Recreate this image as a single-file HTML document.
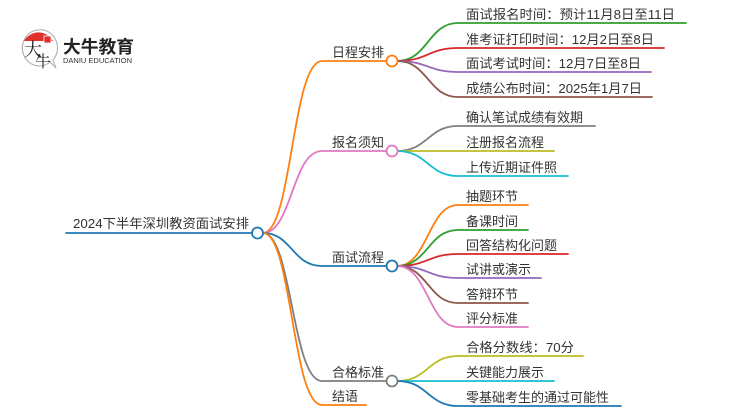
<!DOCTYPE html>
<html>
<head>
<meta charset="utf-8">
<style>
html,body{margin:0;padding:0;background:#fff;}
svg{display:block;}
text{font-family:"Liberation Sans","Noto Sans CJK SC",sans-serif;fill:#333;}
.t{font-size:13px;}
</style>
</head>
<body>
<svg width="750" height="410" viewBox="0 0 750 410" xmlns="http://www.w3.org/2000/svg">
  <!-- Logo -->
  <g>
    <path d="M38 30 A17 18 0 1 0 50 62 L56 68 L53 60 A17 18 0 0 0 38 30 Z" fill="#fff" stroke="#aaa" stroke-width="1"/>
    <path d="M24 41 A17 18 0 0 1 53 41 Z" fill="#e0302a"/>
    <rect x="44" y="36" width="7" height="7" fill="#e0302a" stroke="#fff" stroke-width="0.8"/>
    <text x="24" y="56" style="font-size:18px;font-family:'Noto Serif CJK SC',serif;fill:#222;">大</text>
    <text x="35" y="67" style="font-size:16px;font-family:'Noto Serif CJK SC',serif;fill:#222;">牛</text>
    <text x="63" y="53" style="font-size:17.5px;font-weight:bold;fill:#222;" textLength="71" lengthAdjust="spacingAndGlyphs">大牛教育</text>
    <text x="63" y="63" style="font-size:7.5px;fill:#333;" textLength="69" lengthAdjust="spacingAndGlyphs">DANIU EDUCATION</text>
  </g>

  <g fill="none" stroke-width="1.8" stroke-linecap="round">
    <!-- root line -->
    <path d="M66 233 L252 233" stroke="#1f77b4"/>
    <!-- level 1 branches -->
    <path d="M263 233 C292 233 292 61 322 61 L387 61" stroke="#ff7f0e"/>
    <path d="M263 233 C292 233 292 151 322 151 L387 151" stroke="#e377c2"/>
    <path d="M263 233 C292 233 292 266 322 266 L387 266" stroke="#1f77b4"/>
    <path d="M263 233 C292 233 292 381 322 381 L387 381" stroke="#7f7f7f"/>
    <path d="M263 233 C292 233 292 405 322 405 L366 405" stroke="#ff7f0e"/>

    <!-- 日程安排 children -->
    <path d="M397 61 C428 61 428 23 458 23 L686 23" stroke="#2ca02c"/>
    <path d="M397 61 C428 61 428 48 458 48 L664 48" stroke="#d62728"/>
    <path d="M397 61 C428 61 428 72 458 72 L651 72" stroke="#9467bd"/>
    <path d="M397 61 C428 61 428 97 458 97 L652 97" stroke="#8c564b"/>

    <!-- 报名须知 children -->
    <path d="M397 151 C428 151 428 126 458 126 L595 126" stroke="#7f7f7f"/>
    <path d="M397 151 C428 151 428 151 458 151 L554 151" stroke="#bcbd22"/>
    <path d="M397 151 C428 151 428 176 458 176 L568 176" stroke="#17becf"/>

    <!-- 面试流程 children -->
    <path d="M397 266 C428 266 428 205 458 205 L528 205" stroke="#ff7f0e"/>
    <path d="M397 266 C428 266 428 230 458 230 L528 230" stroke="#2ca02c"/>
    <path d="M397 266 C428 266 428 254 458 254 L568 254" stroke="#d62728"/>
    <path d="M397 266 C428 266 428 278 458 278 L541 278" stroke="#9467bd"/>
    <path d="M397 266 C428 266 428 303 458 303 L528 303" stroke="#8c564b"/>
    <path d="M397 266 C428 266 428 327 458 327 L528 327" stroke="#e377c2"/>

    <!-- 合格标准 children -->
    <path d="M397 381 C428 381 428 356 458 356 L583 356" stroke="#bcbd22"/>
    <path d="M397 381 C428 381 428 381 458 381 L554 381" stroke="#17becf"/>
    <path d="M397 381 C428 381 428 406 458 406 L621 406" stroke="#1f77b4"/>
  </g>

  <!-- circles -->
  <g fill="#fff" stroke-width="1.8">
    <circle cx="257.5" cy="233" r="5.5" stroke="#1f77b4"/>
    <circle cx="392" cy="61" r="5.5" stroke="#ff7f0e"/>
    <circle cx="392" cy="151" r="5.5" stroke="#e377c2"/>
    <circle cx="392" cy="266" r="5.5" stroke="#1f77b4"/>
    <circle cx="392" cy="381" r="5.5" stroke="#7f7f7f"/>
  </g>

  <!-- labels -->
  <text class="t" x="73" y="228" textLength="176" lengthAdjust="spacingAndGlyphs">2024下半年深圳教资面试安排</text>

  <text class="t" x="332" y="57">日程安排</text>
  <text class="t" x="332" y="147">报名须知</text>
  <text class="t" x="332" y="262">面试流程</text>
  <text class="t" x="332" y="377">合格标准</text>
  <text class="t" x="332" y="401">结语</text>

  <text class="t" x="466" y="19" textLength="209" lengthAdjust="spacingAndGlyphs">面试报名时间：预计11月8日至11日</text>
  <text class="t" x="466" y="44" textLength="188" lengthAdjust="spacingAndGlyphs">准考证打印时间：12月2日至8日</text>
  <text class="t" x="466" y="68" textLength="175" lengthAdjust="spacingAndGlyphs">面试考试时间：12月7日至8日</text>
  <text class="t" x="466" y="93" textLength="176" lengthAdjust="spacingAndGlyphs">成绩公布时间：2025年1月7日</text>

  <text class="t" x="466" y="122">确认笔试成绩有效期</text>
  <text class="t" x="466" y="147">注册报名流程</text>
  <text class="t" x="466" y="172">上传近期证件照</text>

  <text class="t" x="466" y="201">抽题环节</text>
  <text class="t" x="466" y="226">备课时间</text>
  <text class="t" x="466" y="250">回答结构化问题</text>
  <text class="t" x="466" y="274">试讲或演示</text>
  <text class="t" x="466" y="299">答辩环节</text>
  <text class="t" x="466" y="323">评分标准</text>

  <text class="t" x="466" y="352" textLength="108" lengthAdjust="spacingAndGlyphs">合格分数线：70分</text>
  <text class="t" x="466" y="377">关键能力展示</text>
  <text class="t" x="466" y="402">零基础考生的通过可能性</text>
</svg>
</body>
</html>
